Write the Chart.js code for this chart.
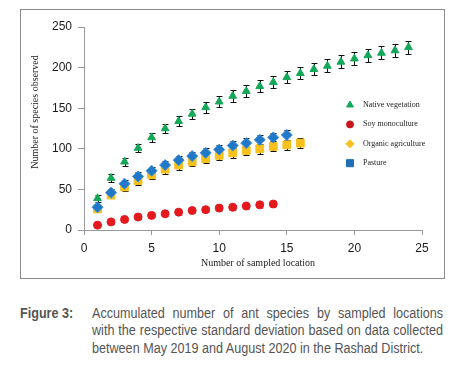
<!DOCTYPE html>
<html>
<head>
<meta charset="utf-8">
<script src="https://cdn.jsdelivr.net/npm/chart.js@4.4.1/dist/chart.umd.min.js"></script>
<style>
  body { margin: 0; background: #fff; width: 459px; height: 367px; position: relative; overflow: hidden; }
  #frame { position: absolute; left: 20px; top: 9px; width: 423px; height: 268px; border: 1px solid #8a8a8a; }
  #wrap { position: absolute; left: 0; top: 0; width: 459px; height: 285px; }
  .cap { position: absolute; font-family: "Liberation Sans", Arial, sans-serif; font-size: 14px; color: #555; line-height: 17px;
         white-space: nowrap; transform: scaleX(0.9); transform-origin: 0 0; }
  #figlab { left: 20px; top: 305px; font-weight: bold; }
  .line { left: 92px; width: 390px; text-align: justify; text-align-last: justify; }
</style>
</head>
<body>
<div id="frame"></div>
<div id="wrap"><canvas id="speciesChart" width="459" height="285"></canvas></div>
<div class="cap" id="figlab">Figure 3:</div>
<div class="cap line" style="top:305px">Accumulated number of ant species by sampled locations</div>
<div class="cap line" style="top:322px">with the respective standard deviation based on data collected</div>
<div class="cap" style="left:92px; top:340px">between May 2019 and August 2020 in the Rashad District.</div>
<script>
document.addEventListener("DOMContentLoaded", function () {
  // values (x = number of sampled locations, 1..n)
  const nativeMean = [39, 64, 84, 101, 114, 125, 134, 143, 151, 158, 165, 171, 177, 182, 188, 193, 198, 202, 207, 211, 215, 218, 221, 225];
  const nativeSd = [4, 4.5, 5, 5.5, 6, 6, 6.5, 6.5, 7, 7, 7, 7, 7.5, 7.5, 7.5, 7.5, 7.5, 8, 8, 8, 8, 8, 8, 8];
  const soyMean = [6, 10, 13, 16, 18, 20, 22, 24, 25, 27, 28, 29.5, 31, 32];
  const soySd = [1.5, 2, 2, 2.5, 2.5, 2.5, 3, 3, 3, 3, 3, 3.5, 3.5, 3.5];
  const organicMean = [26, 43, 53, 61, 68, 75, 80, 84, 88, 92, 95, 98, 100, 103, 105, 107];
  const organicSd = [3, 4, 4.5, 5, 5, 5.5, 5.5, 5.5, 6, 6, 6, 6, 6, 6, 6, 6];
  const pastureMean = [28, 46, 57, 66, 73, 80, 86, 91, 95, 99, 104, 107, 111, 114, 117];
  const pastureSd = [3, 4, 4.5, 5, 5, 5.5, 5.5, 5.5, 6, 6, 6, 6, 6, 6, 6];
  const xTicks = [0, 5, 10, 15, 20, 25];
  const yTicks = [0, 50, 100, 150, 200, 250];

  const green = "#13a858";
  const red = "#e3191e";
  const yellow = "#f7c01c";
  const blue = "#1f78c8";

  function toPoints(values) {
    return values.map((v, i) => ({ x: i + 1, y: v }));
  }

  // legend markers in the figure differ from the plotted markers
  const legendItems = [
    { text: "Native vegetation", color: green, style: "triangle", radius: 4 },
    { text: "Soy monoculture", color: "#c8161b", style: "circle", radius: 3.5 },
    { text: "Organic agriculture", color: yellow, style: "rectRot", radius: 4 },
    { text: "Pasture", color: "#1e6fb5", style: "rect", radius: 5 },
  ];

  const errorBars = {
    id: "errorBars",
    beforeDatasetsDraw(chart) {
      const { ctx, scales } = chart;
      ctx.save();
      ctx.lineWidth = 1;
      chart.data.datasets.forEach((ds) => {
        ctx.strokeStyle = ds.barColor;
        ds.data.forEach((p, i) => {
          const px = Math.round(scales.x.getPixelForValue(p.x)) + 0.5;
          const top = Math.round(scales.y.getPixelForValue(p.y + ds.sd[i])) + 0.5;
          const bot = Math.round(scales.y.getPixelForValue(p.y - ds.sd[i])) + 0.5;
          ctx.beginPath();
          ctx.moveTo(px, top);
          ctx.lineTo(px, bot);
          ctx.moveTo(px - 3, top);
          ctx.lineTo(px + 3, top);
          ctx.moveTo(px - 3, bot);
          ctx.lineTo(px + 3, bot);
          ctx.stroke();
        });
      });
      ctx.restore();
    },
  };

  const extras = {
    id: "extras",
    afterDraw(chart) {
      const { ctx, chartArea } = chart;
      ctx.save();
      ctx.fillStyle = "#1a1a1a";
      ctx.font = "10px 'Liberation Serif', serif";
      ctx.textAlign = "center";
      ctx.textBaseline = "middle";
      ctx.fillText("Number of sampled location", 258, 263);
      ctx.save();
      ctx.translate(35, 112);
      ctx.rotate(-Math.PI / 2);
      ctx.fillText("Number of species observed", 0, 0);
      ctx.restore();

      // legend inside the plot
      ctx.font = "8px 'Liberation Serif', serif";
      ctx.textAlign = "left";
      legendItems.forEach((item, i) => {
        const y = 105 + i * 19.4;
        ctx.fillStyle = item.color;
        ctx.strokeStyle = item.color;
        Chart.helpers.drawPoint(ctx, { pointStyle: item.style, radius: item.radius, borderWidth: 0.5, rotation: 0 }, chartArea.right - 72, y);
        ctx.fillStyle = "#222";
        ctx.fillText(item.text, chartArea.right - 59, y);
      });
      ctx.restore();
    },
  };

  new Chart(document.getElementById("speciesChart").getContext("2d"), {
    type: "scatter",
    data: {
      datasets: [
        {
          label: "Native vegetation",
          data: toPoints(nativeMean),
          sd: nativeSd,
          barColor: "#111",
          pointStyle: "triangle",
          pointRadius: 4.5,
          backgroundColor: green,
          borderColor: green,
          order: 0,
        },
        {
          label: "Soy monoculture",
          data: toPoints(soyMean),
          sd: soySd,
          barColor: "#9a9a9a",
          pointStyle: "circle",
          pointRadius: 4,
          backgroundColor: red,
          borderColor: red,
          order: 1,
        },
        {
          label: "Organic agriculture",
          data: toPoints(organicMean),
          sd: organicSd,
          barColor: "#111",
          pointStyle: "rect",
          pointRadius: 5.5,
          backgroundColor: yellow,
          borderColor: yellow,
          order: 3,
        },
        {
          label: "Pasture",
          data: toPoints(pastureMean),
          sd: pastureSd,
          barColor: "#111",
          pointStyle: "rectRot",
          pointRadius: 5.5,
          backgroundColor: blue,
          borderColor: "#3d8fd8",
          order: 2,
        },
      ],
    },
    options: {
      responsive: false,
      animation: false,
      layout: { padding: { left: 0, top: 27, right: 37, bottom: 0 } },
      plugins: {
        legend: { display: false },
        tooltip: { enabled: false },
      },
      scales: {
        x: {
          type: "linear",
          min: xTicks[0],
          max: xTicks[xTicks.length - 1],
          afterBuildTicks: (axis) => { axis.ticks = xTicks.map((v) => ({ value: v })); },
          afterFit: (axis) => { axis.height = 55; },
          grid: { drawOnChartArea: false, drawTicks: true, tickLength: 5, color: "#999" },
          border: { color: "#999" },
          ticks: { color: "#1a1a1a", padding: 6, font: { family: "'Liberation Sans', Arial", size: 12 } },
        },
        y: {
          type: "linear",
          min: yTicks[0],
          max: yTicks[yTicks.length - 1],
          afterBuildTicks: (axis) => { axis.ticks = yTicks.map((v) => ({ value: v })); },
          afterFit: (axis) => { axis.width = 84; },
          grid: { drawOnChartArea: false, drawTicks: true, tickLength: 6, color: "#999" },
          border: { color: "#999" },
          ticks: { color: "#1a1a1a", padding: 6, font: { family: "'Liberation Sans', Arial", size: 12 } },
        },
      },
    },
    plugins: [errorBars, extras],
  });
});
</script>
</body>
</html>
